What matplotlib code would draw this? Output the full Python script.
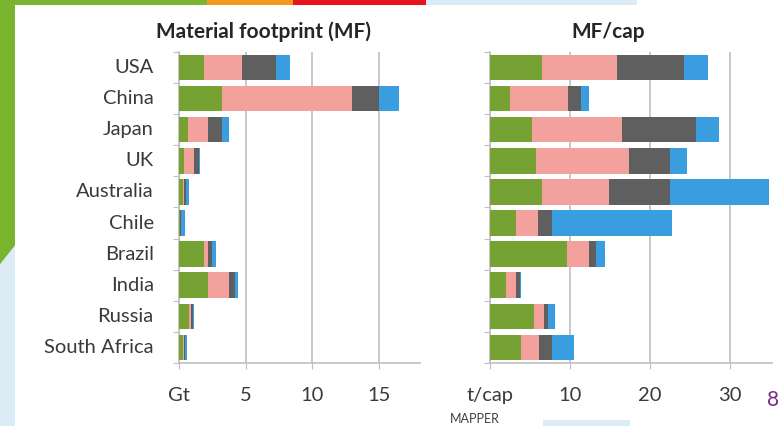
import matplotlib.pyplot as plt
from matplotlib.patches import Polygon, Rectangle
import numpy as np

countries = ['USA', 'China', 'Japan', 'UK', 'Australia', 'Chile',
             'Brazil', 'India', 'Russia', 'South Africa']

# material footprint, Gt (biomass, non-metallic minerals, fossil fuels, metal ores)
mf_biomass = [1.9, 3.2, 0.7, 0.4, 0.3, 0.05, 1.9, 2.2, 0.75, 0.3]
mf_minerals = [2.85, 9.8, 1.5, 0.7, 0.05, 0.03, 0.3, 1.55, 0.15, 0.05]
mf_fossil = [2.55, 2.0, 1.0, 0.4, 0.15, 0.05, 0.3, 0.45, 0.15, 0.1]
mf_metal = [1.0, 1.5, 0.55, 0.05, 0.25, 0.3, 0.3, 0.2, 0.1, 0.15]

# material footprint per capita, t/cap
cap_biomass = [6.5, 2.5, 5.2, 5.7, 6.5, 3.3, 9.6, 2.0, 5.5, 3.9]
cap_minerals = [9.4, 7.2, 11.3, 11.6, 8.3, 2.7, 2.7, 1.3, 1.3, 2.2]
cap_fossil = [8.3, 1.7, 9.2, 5.2, 7.7, 1.8, 0.9, 0.4, 0.4, 1.6]
cap_metal = [3.0, 1.0, 2.9, 2.1, 12.3, 14.9, 1.1, 0.2, 0.9, 2.8]

colors = ['#76a234', '#f2a19d', '#5f5f5f', '#3a9ddf']

plt.rcParams['font.family'] = ['Lato', 'DejaVu Sans']

fig = plt.figure(figsize=(7.81, 4.26), dpi=100)

# slide background pieces around the white panel
fig.patches.append(Rectangle((0, 0), 1, 1, transform=fig.transFigure,
                             facecolor='#dcecf6', zorder=-3))
fig.patches.append(Polygon([(0, 1), (0.27, 1), (0.0, 0.38)],
                           transform=fig.transFigure, facecolor='#7ab32e', zorder=-2))
fig.patches.append(Rectangle((0.265, 0.985), 0.11, 0.015, transform=fig.transFigure,
                             facecolor='#f39a1c', zorder=-2))
fig.patches.append(Rectangle((0.375, 0.985), 0.17, 0.015, transform=fig.transFigure,
                             facecolor='#e8141d', zorder=-2))
fig.patches.append(Rectangle((0.815, 0.985), 0.185, 0.015, transform=fig.transFigure,
                             facecolor='white', zorder=-2))
fig.patches.append(Rectangle((0.019, 0.0), 0.981, 0.988, transform=fig.transFigure,
                             facecolor='white', zorder=-1))
fig.patches.append(Rectangle((0.695, 0.0), 0.112, 0.015, transform=fig.transFigure,
                             facecolor='#dcecf6', zorder=-1))

ax1 = fig.add_axes([0.2292, 0.148, 0.3086, 0.730])
ax2 = fig.add_axes([0.6274, 0.148, 0.3611, 0.730])

y = np.arange(len(countries))


def stacked(ax, parts, xmax, ticks, unit):
    left = np.zeros(len(countries))
    for vals, c in zip(parts, colors):
        ax.barh(y, vals, left=left, height=0.82, color=c, zorder=3)
        left += np.array(vals)
    ax.set_ylim(len(countries) - 0.5, -0.5)
    ax.set_xlim(0, xmax)
    ax.set_xticks([0] + ticks)
    ax.set_xticklabels([unit] + [str(t) for t in ticks], fontsize=14.5, color='#3a3a3a')
    ax.set_yticks(np.arange(len(countries) + 1) - 0.5, minor=False)
    ax.set_yticklabels([])
    ax.tick_params(axis='y', length=4, color='#bfbfbf', direction='out')
    ax.tick_params(axis='x', length=4, color='#bfbfbf', pad=13)
    ax.grid(axis='x', color='#bfbfbf', linewidth=1.2, zorder=0)
    for s in ['top', 'right']:
        ax.spines[s].set_visible(False)
    for s in ['left', 'bottom']:
        ax.spines[s].set_color('#bfbfbf')
        ax.spines[s].set_linewidth(1.2)


stacked(ax1, [mf_biomass, mf_minerals, mf_fossil, mf_metal], 18.1, [5, 10, 15], 'Gt')
stacked(ax2, [cap_biomass, cap_minerals, cap_fossil, cap_metal], 35.2, [10, 20, 30], 't/cap')

for i, name in enumerate(countries):
    ax1.text(-1.9, i, name, ha='right', va='center', fontsize=14.5, color='#3a3a3a')

fig.text(264 / 781, 1 - 32 / 426, 'Material footprint (MF)', ha='center', va='center',
         fontsize=15, fontweight='bold', color='#262626')
fig.text(608 / 781, 1 - 32 / 426, 'MF/cap', ha='center', va='center',
         fontsize=15, fontweight='bold', color='#262626')

fig.text(773 / 781, 1 - 400 / 426, '8', ha='center', va='center',
         fontsize=15, color='#7b2a8c')
fig.text(475 / 781, 0.002, 'MAPPER', ha='center', va='bottom',
         fontsize=9, color='#404040')

fig.savefig('out.png', dpi=100)
